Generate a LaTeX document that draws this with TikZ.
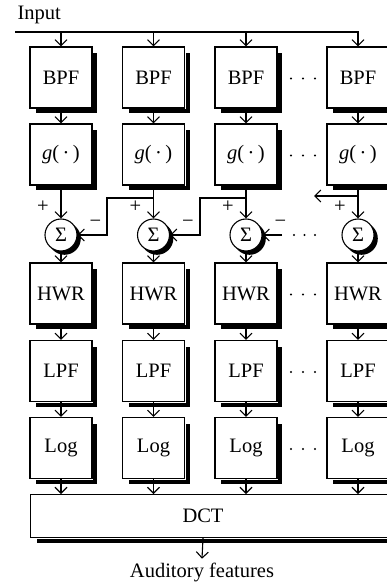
\documentclass[tikz,border=0pt]{standalone}
\usepackage{fontspec}
\setmainfont{Liberation Serif}
\usetikzlibrary{arrows.meta}
\begin{document}
\begin{tikzpicture}[x=1pt,y=-1pt,line width=1.1pt,
  font=\fontsize{20.5}{24}\selectfont,
  blk/.style={draw,fill=white,minimum width=62pt,minimum height=61pt,inner sep=0pt},
  sumnode/.style={circle,draw,fill=white,minimum size=32pt,inner sep=0pt},
  arr/.style={-{Straight Barb[length=6pt,width=12pt]}},
  sign/.style={inner sep=0pt}]
\useasboundingbox (0,0) rectangle (387,583);

% processing columns
\foreach \c/\x in {1/61,2/153.5,3/246,4/358} {
  \node[blk] (bpf\c) at (\x,77.5) {BPF};
  \node[blk] (g\c) at (\x,154.5) {\textit{g}(\,·\,)};
  \node[blk] (hwr\c) at (\x,293.5) {HWR};
  \node[blk] (lpf\c) at (\x,371) {LPF};
  \node[blk] (log\c) at (\x,448) {Log};
  \node[sign] (p\c) at (\x-18,207) {+};
}

% transform stage
\node[blk,minimum width=362pt,minimum height=43pt,anchor=north west] (dct) at (30,494) {};
\node (dctlabel) at (203,515.5) {DCT};

% cast shadows: strips along the right and lower edges of every block
\foreach \c in {1,2,3,4} {
  \foreach \b in {bpf,g,hwr,lpf,log} {
    \fill ([shift={(0.6,7)}]\b\c.north east) rectangle ([shift={(4.6,4.6)}]\b\c.south east);
    \fill ([shift={(7,0.6)}]\b\c.south west) rectangle ([shift={(4.6,4.6)}]\b\c.south east);
  }
}
\fill ([shift={(7,0.6)}]dct.south west) rectangle ([shift={(30,4.6)}]dct.south east);

% summing junctions, each over its own shadow disc
\foreach \c/\x in {1/61,2/153.5,3/246,4/358} {
  \fill (\x+3.5,238.5) circle[radius=16.3];
  \node[sumnode] (s\c) at (\x,235) {Σ};
}

% input and output
\node[anchor=base west,inner sep=0pt] (inp) at (17,20) {Input};
\coordinate (inL) at (15,32);
\node[anchor=base] (aud) at (202,577) {Auditory features};

% signal flow
\draw[arr] (inL) -| (bpf4.north);
\foreach \c in {1,2,3} {
  \draw[arr] (bpf\c.north |- inL) -- (bpf\c.north);
}
\foreach \c in {1,2,3,4} {
  \draw[arr] (bpf\c.south) -- (g\c.north);
  \draw[arr] (g\c.south) -- (s\c.north);
  \draw[arr] (s\c.south) -- (hwr\c.north);
  \draw[arr] (hwr\c.south) -- (lpf\c.north);
  \draw[arr] (lpf\c.south) -- (log\c.north);
  \draw[arr] (log\c.south) -- (log\c.south |- dct.north);
}
\draw[arr] (dctlabel.south |- dct.south) -- (aud.north);

% lateral inhibition paths
\coordinate (t2) at (153.5,198);
\coordinate (k1) at (107,235);
\draw[arr] (t2) -| (k1) -- (s1.east);
\coordinate (t3) at (246,198);
\coordinate (k2) at (200,235);
\draw[arr] (t3) -| (k2) -- (s2.east);
\coordinate (m3) at (282,235);
\draw[arr] (m3) -- (s3.east);
\coordinate (t4) at (358,196);
\coordinate (m4) at (314,196);
\draw[arr] (t4) -- (m4);

\node[sign] (n1) at (95.5,223.5) {−};
\node[sign] (n2) at (188,223.5) {−};
\node[sign] (n3) at (280.5,223.5) {−};

% ellipses between columns
\foreach \y in {78.5,155.5,294.5,372,449} {
  \foreach \dx in {291,303,315} {
    \fill (\dx,\y) circle[radius=1.1];
  }
}
\foreach \dx in {294,304.5,315} {
  \fill (\dx,235) circle[radius=1.1];
}
\end{tikzpicture}
\end{document}
